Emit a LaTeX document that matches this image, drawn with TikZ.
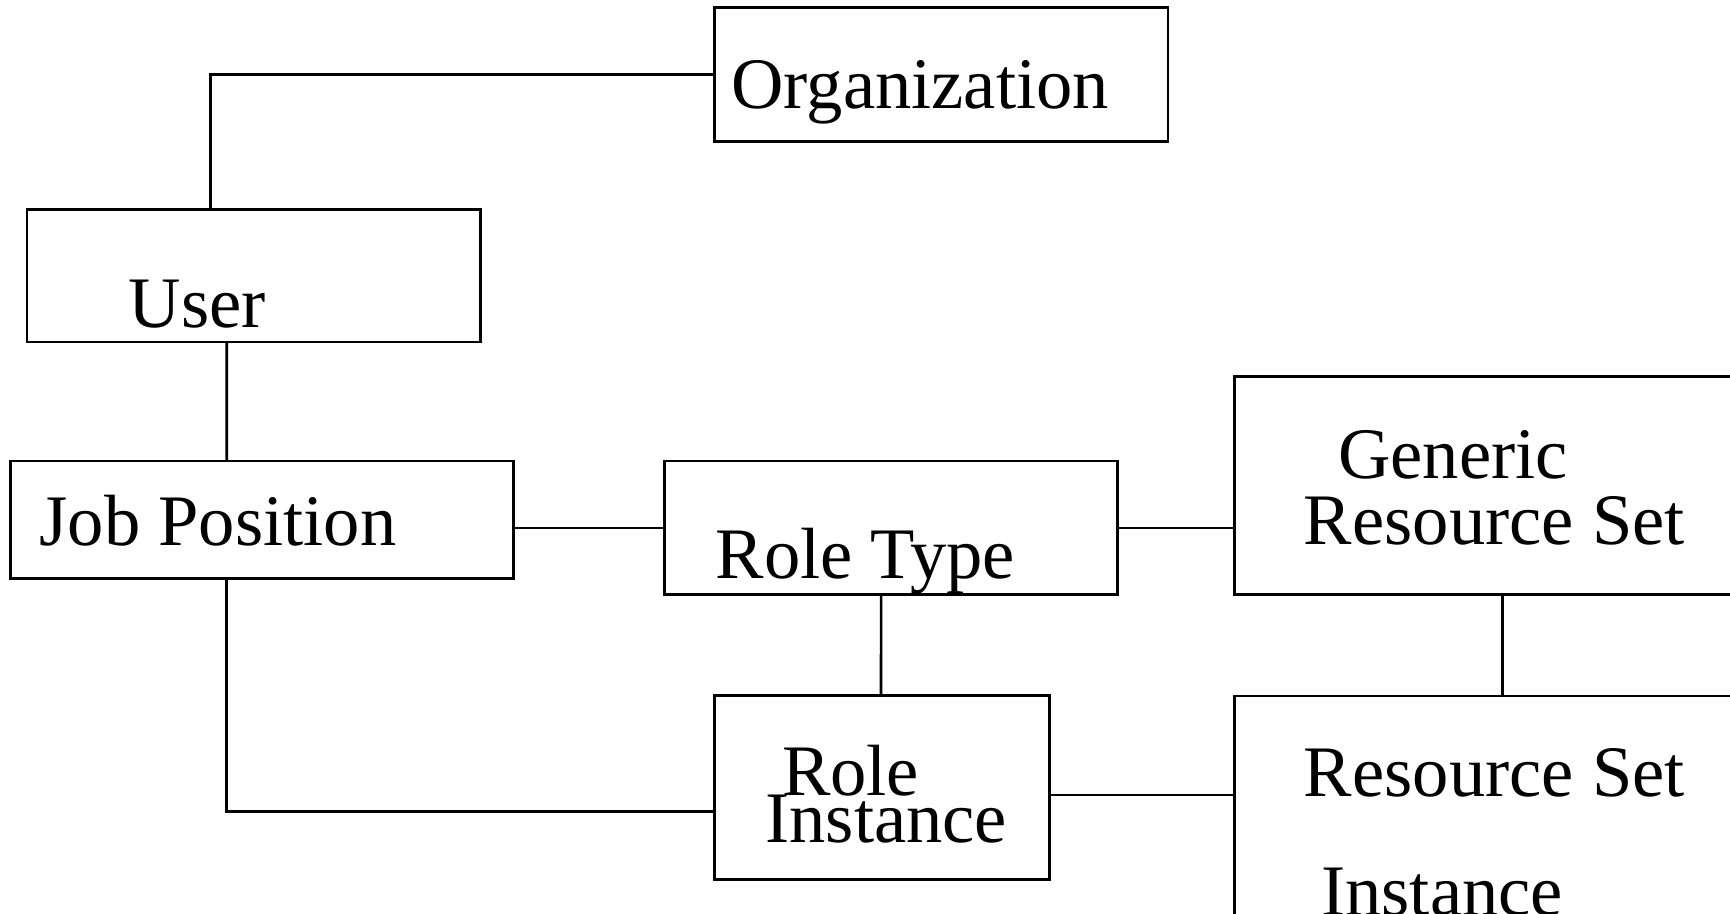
\documentclass[tikz,border=0pt]{standalone}
\usepackage{fontspec}
\setmainfont{Liberation Serif}
\begin{document}
\begin{tikzpicture}[x=0.01cm,y=-0.01cm,
  box/.style={draw, line width=0.7pt, inner sep=0pt, outer sep=0pt, anchor=north west},
  lbl/.style={anchor=base west, inner sep=0pt, outer sep=0pt, font=\fontsize{18.7}{20}\selectfont},
  link/.style={line width=0.7pt}]
\useasboundingbox (0,0) rectangle (1568,828);
\fill[white] (0,0) rectangle (1568,828);
\clip (0,0) rectangle (1568,828);
% boxes
\node[box, minimum width=4.11cm, minimum height=1.217cm] (org) at (647.4,6.7) {};
\node[box, minimum width=4.109cm, minimum height=1.203cm] (user) at (24.4,189.7) {};
\node[box, minimum width=4.56cm, minimum height=1.063cm] (job) at (9.3,417.9) {};
\node[box, minimum width=4.106cm, minimum height=1.211cm] (rtype) at (602,417.9) {};
\node[box, minimum width=6cm, minimum height=1.972cm] (grs) at (1119.1,341.5) {};
\node[box, minimum width=3.038cm, minimum height=1.668cm] (rinst) at (647.4,630.2) {};
\node[box, minimum width=6cm, minimum height=3cm] (rsi) at (1119.1,630.8) {};
% labels
\node[lbl] (torg) at (663,98.2) {Organization};
\node[lbl] (tuser) at (116.7,297) {User};
\node[lbl] (tjob) at (36,494.3) {Job Position};
\node[lbl] (trtype) at (648.7,524.5) {Role Type};
\node[lbl] (tgrs1) at (1213,433.8) {Generic};
\node[lbl] (tgrs2) at (1181.8,493.5) {Resource Set};
\node[lbl] (tri1) at (708.8,720.6) {Role};
\node[lbl] (tri2) at (693.7,763.8) {Instance};
\node[lbl] (trsi1) at (1181.8,721.5) {Resource Set};
\node[lbl] (trsi2) at (1197.5,830) {Instance};
% connectors
\draw[link] ([xshift=1.664cm]user.north west) |- (org.west);
\draw[link] ([xshift=1.811cm]user.south west) -- ([xshift=1.962cm]job.north west);
\draw[link] (job.east |- rtype.west) -- (rtype.west);
\draw[link] (rtype.east) -- (rtype.east -| grs.west);
\draw[link] ([xshift=1.965cm]rtype.south west) -- ([xshift=1.511cm]rinst.north west);
\draw[link] ([xshift=2.424cm]grs.south west) -- ([xshift=2.424cm]rsi.north west);
\draw[link] ([xshift=1.962cm]job.south west) |- ([yshift=-1.055cm]rinst.north west);
\path ([yshift=-0.904cm]rinst.north east) coordinate (ri);
\draw[link] (ri) -- (ri -| rsi.west);
\end{tikzpicture}
\end{document}
